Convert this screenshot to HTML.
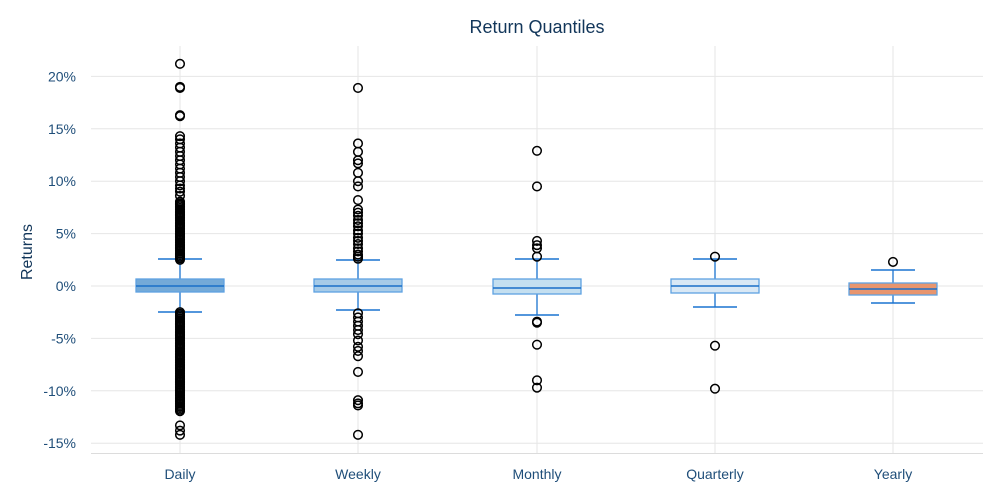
<!DOCTYPE html>
<html><head><meta charset="utf-8"><style>
html,body{margin:0;padding:0;background:#fff;}
svg{display:block;font-family:"Liberation Sans",sans-serif;}
</style></head><body>
<svg id="s" width="1000" height="500" xmlns="http://www.w3.org/2000/svg">
<text x="537" y="33" text-anchor="middle" font-size="18" fill="#12365a">Return Quantiles</text>
<text transform="translate(32,252) rotate(-90)" text-anchor="middle" font-size="16" fill="#12365a">Returns</text>
<g id="grid" stroke="#e6e6e6" stroke-width="1"></g>
<line x1="91" y1="453.5" x2="983" y2="453.5" stroke="#dcdcdc"/>
<g id="lab" font-size="14" fill="#1f4e79"></g>
<g id="box"></g>
<g id="out" fill="none" stroke="#000" stroke-width="1.5"></g>
</svg>
<script>
const NS="http://www.w3.org/2000/svg";
function el(p,t,a,txt){const e=document.createElementNS(NS,t);for(const k in a)e.setAttribute(k,a[k]);if(txt!==undefined)e.textContent=txt;document.getElementById(p).appendChild(e);return e;}
const Y=v=>286-v*10.48;
for(let v=-15;v<=20;v+=5){const y=Y(v);el('grid','line',{x1:91,x2:983,y1:y,y2:y});
 el('lab','text',{x:76,y:y+5,'text-anchor':'end'},v+'%');}
const xs=[180,358,537,715,893],names=['Daily','Weekly','Monthly','Quarterly','Yearly'];
xs.forEach((x,i)=>{el('grid','line',{x1:x,x2:x,y1:46,y2:453});el('lab','text',{x:x,y:479,'text-anchor':'middle'},names[i]);});
const fills=['#74aad8','#a6cbe8','#c4dff0','#d9e8f5','#e8956e'];
const bx=[[279,292,286,259,312],[279,292,286,260,310],[279,294,288,259,315],[279,293,286,259,307],[283,295,289,270,303]];
bx.forEach((b,i)=>{const x=xs[i];
 el('box','line',{x1:x,x2:x,y1:b[3],y2:b[0],stroke:'#1a73d0','stroke-width':1.3});
 el('box','line',{x1:x,x2:x,y1:b[1],y2:b[4],stroke:'#1a73d0','stroke-width':1.3});
 el('box','line',{x1:x-22,x2:x+22,y1:b[3],y2:b[3],stroke:'#1a73d0','stroke-width':1.5});
 el('box','line',{x1:x-22,x2:x+22,y1:b[4],y2:b[4],stroke:'#1a73d0','stroke-width':1.5});
 el('box','rect',{x:x-44,y:b[0],width:88,height:b[1]-b[0],fill:fills[i],stroke:'#5ea2e2','stroke-width':1.3});
 el('box','line',{x1:x-44,x2:x+44,y1:b[2],y2:b[2],stroke:'#1a6fc8','stroke-width':1.5});
});
const outs=[[],[],[],[],[]];
for(let v=2.5;v<=8.2;v+=0.15)outs[0].push(v);
[8.6,9,9.3,9.6,10,10.4,10.8,11.2,11.6,12,12.4,12.8,13.2,13.6,14,14.3,16.2,16.3,18.9,19,21.2].forEach(v=>outs[0].push(v));
for(let v=-2.5;v>=-12;v-=0.15)outs[0].push(v);
[-13.3,-13.8,-14.2].forEach(v=>outs[0].push(v));
outs[1]=[2.6,2.8,3,3.3,3.6,4,4.3,4.6,5,5.3,5.7,6,6.3,6.7,7,7.3,8.2,9.5,10,10.8,11.7,12,12.8,13.6,18.9,-2.6,-3,-3.4,-3.8,-4.2,-4.6,-5.2,-5.8,-6.2,-6.7,-8.2,-10.9,-11.2,-11.4,-14.2];
outs[2]=[2.8,3.6,3.9,4.3,9.5,12.9,-3.4,-3.5,-5.6,-9,-9.7];
outs[3]=[2.8,-5.7,-9.8];
outs[4]=[2.3];
outs.forEach((a,i)=>a.forEach(v=>el('out','circle',{cx:xs[i],cy:Y(v),r:4.3})));
</script>
</body></html>
